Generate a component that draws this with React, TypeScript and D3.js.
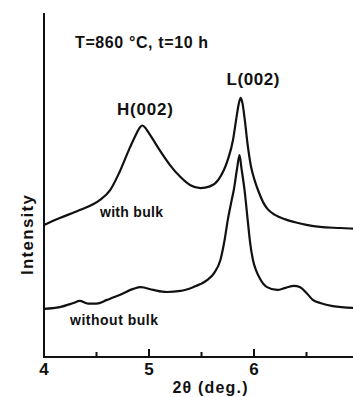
import React from "react";
import * as d3 from "d3";

// X-ray diffraction profiles, 2θ in degrees vs. intensity (arbitrary units)
const withBulkTheta = [4.0, 4.15, 4.34, 4.53, 4.63, 4.72, 4.82, 4.88, 4.91, 4.935, 4.96, 4.99, 5.03, 5.1, 5.2, 5.3, 5.39, 5.49, 5.58, 5.66, 5.75, 5.8, 5.83, 5.855, 5.873, 5.89, 5.91, 5.94, 5.97, 6.01, 6.05, 6.09, 6.13, 6.2, 6.3, 6.4, 6.5, 6.63, 6.82, 7.01];
const withBulkIntensity = [38.4, 40.4, 42.7, 45.6, 48.5, 53.8, 61.0, 64.9, 66.6, 67.3, 66.8, 65.5, 63.6, 60.2, 55.8, 52.3, 50.0, 49.1, 49.6, 51.5, 57.3, 63.1, 69.0, 73.6, 75.3, 73.8, 69.5, 61.6, 55.6, 51.0, 47.6, 44.8, 43.0, 41.3, 40.0, 39.1, 38.4, 37.8, 37.5, 37.2];

const withoutBulkTheta = [4.0, 4.15, 4.28, 4.34, 4.42, 4.5, 4.6, 4.72, 4.85, 4.92, 5.04, 5.17, 5.3, 5.42, 5.49, 5.56, 5.62, 5.68, 5.72, 5.75, 5.78, 5.81, 5.84, 5.862, 5.88, 5.91, 5.94, 5.96, 5.99, 6.02, 6.06, 6.12, 6.22, 6.3, 6.38, 6.44, 6.5, 6.56, 6.63, 6.75, 7.01];
const withoutBulkIntensity = [14.0, 14.5, 15.7, 16.3, 15.5, 15.5, 16.6, 18.0, 19.8, 20.3, 19.5, 18.9, 19.2, 20.3, 21.2, 22.5, 24.4, 28.2, 34.0, 39.8, 44.5, 49.0, 55.0, 58.7, 55.0, 48.5, 39.8, 34.0, 28.2, 25.2, 22.6, 20.4, 19.5, 20.1, 20.7, 20.3, 18.6, 16.6, 15.7, 14.8, 14.2];

const majorTicks = [4, 5, 6, 7];
const minorTicks = [4.5, 5.5, 6.5];

const W = 353;
const H = 397;
const FONT = "'Liberation Sans', Arial, Helvetica, sans-serif";

export default function App() {
  const x = d3.scaleLinear().domain([4, 7]).range([44, 359]);
  const y = d3.scaleLinear().domain([0, 100]).range([357, 13]);

  const line = d3
    .line<[number, number]>()
    .x((d) => x(d[0]))
    .y((d) => y(d[1]))
    .curve(d3.curveMonotoneX);

  const upper = line(withBulkTheta.map((t, i) => [t, withBulkIntensity[i]]) as [number, number][]) || "";
  const lower = line(withoutBulkTheta.map((t, i) => [t, withoutBulkIntensity[i]]) as [number, number][]) || "";

  const axisY = y(0);
  const ink = "#111";

  return (
    <svg
      width={W}
      height={H}
      viewBox={`0 0 ${W} ${H}`}
      style={{ position: "absolute", left: 0, top: 0, background: "#fff" }}
    >
      <rect x={0} y={0} width={W} height={H} fill="#fff" />
      <defs>
        <clipPath id="plot">
          <rect x={0} y={0} width={W} height={H} />
        </clipPath>
      </defs>

      {/* axes */}
      <line x1={x(4)} y1={y(100)} x2={x(4)} y2={axisY} stroke={ink} strokeWidth={2} />
      <line x1={x(4) - 1} y1={axisY} x2={x(7)} y2={axisY} stroke={ink} strokeWidth={2} />
      {majorTicks.map((t) => (
        <line key={`M${t}`} x1={x(t)} x2={x(t)} y1={axisY} y2={axisY - 8} stroke={ink} strokeWidth={2} />
      ))}
      {minorTicks.map((t) => (
        <line key={`m${t}`} x1={x(t)} x2={x(t)} y1={axisY} y2={axisY - 5} stroke={ink} strokeWidth={2} />
      ))}
      {majorTicks.map((t) => (
        <text
          key={`l${t}`}
          x={x(t)}
          y={375}
          textAnchor="middle"
          fontFamily={FONT}
          fontWeight="bold"
          fontSize={17}
          fill={ink}
        >
          {t}
        </text>
      ))}
      <text x={210} y={393} textAnchor="middle" fontFamily={FONT} fontWeight="bold" fontSize={16} fill={ink} textLength={75} lengthAdjust="spacing">
        2θ (deg.)
      </text>
      <text
        transform={`translate(33,235) rotate(-90)`}
        textAnchor="middle"
        fontFamily={FONT}
        fontWeight="bold"
        fontSize={17}
        fill={ink}
        textLength={80}
        lengthAdjust="spacing"
      >
        Intensity
      </text>

      {/* profiles */}
      <g clipPath="url(#plot)">
        <path d={upper} fill="none" stroke={ink} strokeWidth={2.2} strokeLinejoin="round" />
        <path d={lower} fill="none" stroke={ink} strokeWidth={2.2} strokeLinejoin="round" />
      </g>

      {/* annotations */}
      <text x={75} y={48} fontFamily={FONT} fontWeight="bold" fontSize={16} fill={ink} textLength={133} lengthAdjust="spacing">
        T=860 °C, t=10 h
      </text>
      <text x={145} y={115} textAnchor="middle" fontFamily={FONT} fontWeight="bold" fontSize={17} fill={ink} textLength={56} lengthAdjust="spacing">
        H(002)
      </text>
      <text x={253} y={85} textAnchor="middle" fontFamily={FONT} fontWeight="bold" fontSize={17} fill={ink} textLength={53} lengthAdjust="spacing">
        L(002)
      </text>
      <text x={100} y={217} fontFamily={FONT} fontWeight="bold" fontSize={14} fill={ink} textLength={63} lengthAdjust="spacing">
        with bulk
      </text>
      <text x={70} y={325} fontFamily={FONT} fontWeight="bold" fontSize={14} fill={ink} textLength={88} lengthAdjust="spacing">
        without bulk
      </text>
    </svg>
  );
}
